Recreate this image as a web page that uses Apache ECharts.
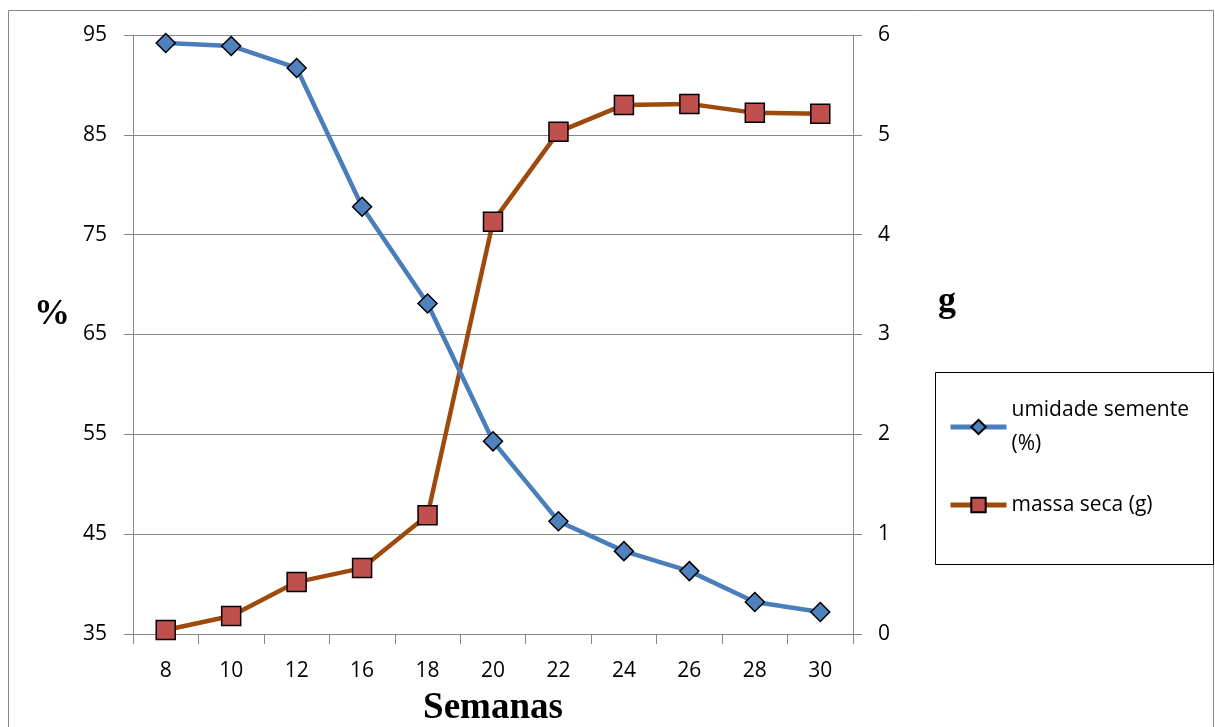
<!DOCTYPE html>
<html>
<head>
<meta charset="utf-8">
<script src="https://cdn.jsdelivr.net/npm/echarts@6/dist/echarts.min.js"></script>
<style>
  html, body { margin: 0; padding: 0; background: #fff; }
  #chart { width: 1215px; height: 727px; }
</style>
</head>
<body>
<div id="chart"></div>
<script>
// weeks
const semanas = ['8', '10', '12', '16', '18', '20', '22', '24', '26', '28', '30'];
// seed moisture (%)
const umidade = [94.2, 93.9, 91.7, 77.8, 68.1, 54.3, 46.3, 43.3, 41.3, 38.2, 37.2];
// dry mass (g)
const massaSeca = [0.04, 0.18, 0.52, 0.66, 1.19, 4.13, 5.03, 5.30, 5.31, 5.22, 5.21];

const gray = '#868686';
const labelFont = '"Open Sans", "Noto Sans", sans-serif';
const titleFont = '"Liberation Serif", "DejaVu Serif", serif';
const unitStyle = { fontFamily: titleFont, fontWeight: 'bold', fontSize: 36, color: '#000' };

const myChart = echarts.init(document.getElementById('chart'));

const option = {
    animation: false,
    backgroundColor: '#fff',
    title: [
        { text: '%', left: 34, top: 297, padding: 0, textStyle: unitStyle },
        { text: 'g', left: 938, top: 284, padding: 0, textStyle: unitStyle }
    ],
    graphic: [
        { type: 'rect', shape: { x: 8.5, y: 10.5, width: 1205, height: 730 }, style: { fill: 'none', stroke: gray, lineWidth: 1 }, z: -1 },
        { type: 'rect', shape: { x: 935.5, y: 372.5, width: 278, height: 192 }, style: { fill: '#fff', stroke: '#000', lineWidth: 1 }, z: 0 }
    ],
    legend: {
        orient: 'vertical',
        left: 943,
        top: 388,
        itemWidth: 56,
        itemHeight: 18,
        itemGap: 27,
        z: 5,
        textStyle: { fontFamily: labelFont, fontSize: 21, color: '#000', lineHeight: 34 },
        formatter: function (name) {
            return name === 'umidade semente (%)' ? 'umidade semente\n(%)' : name;
        },
        data: [
            { name: 'umidade semente (%)', lineStyle: { width: 5 } },
            { name: 'massa seca (g)', lineStyle: { width: 5 } }
        ]
    },
    grid: { left: 133, right: 362, top: 35, bottom: 93, outerBoundsMode: 'none' },
    xAxis: {
        type: 'category',
        data: semanas,
        boundaryGap: true,
        name: 'Semanas',
        nameLocation: 'middle',
        nameGap: 56,
        nameTextStyle: { fontFamily: titleFont, fontWeight: 'bold', fontSize: 37, color: '#000' },
        axisLine: { lineStyle: { color: gray, width: 1 } },
        axisTick: { show: true, length: 10, lineStyle: { color: gray } },
        axisLabel: { margin: 27, fontFamily: labelFont, fontSize: 21, color: '#000' }
    },
    yAxis: [
        {
            type: 'value',
            min: 35,
            max: 95,
            interval: 10,
            axisLine: { show: true, lineStyle: { color: gray } },
            axisTick: { show: true, length: 9, lineStyle: { color: gray } },
            axisLabel: { margin: 26, fontFamily: labelFont, fontSize: 21, color: '#000' },
            splitLine: { show: true, lineStyle: { color: gray, width: 1 } }
        },
        {
            type: 'value',
            min: 0,
            max: 6,
            interval: 1,
            axisLine: { show: true, lineStyle: { color: gray } },
            axisTick: { show: true, length: 9, lineStyle: { color: gray } },
            axisLabel: { margin: 25, fontFamily: labelFont, fontSize: 21, color: '#000' },
            splitLine: { show: false }
        }
    ],
    series: [
        {
            name: 'umidade semente (%)',
            type: 'line',
            yAxisIndex: 0,
            data: umidade,
            symbol: 'diamond',
            symbolSize: 19,
            lineStyle: { color: '#4A7EBB', width: 4.5 },
            itemStyle: { color: '#4F81BD', borderColor: '#000', borderWidth: 1.5 },
            z: 3
        },
        {
            name: 'massa seca (g)',
            type: 'line',
            yAxisIndex: 1,
            data: massaSeca,
            symbol: 'rect',
            symbolSize: 19,
            lineStyle: { color: '#9E4A0C', width: 4.5 },
            itemStyle: { color: '#C0504D', borderColor: '#000', borderWidth: 1.5 },
            z: 2
        }
    ]
};

myChart.setOption(option);
</script>
</body>
</html>
